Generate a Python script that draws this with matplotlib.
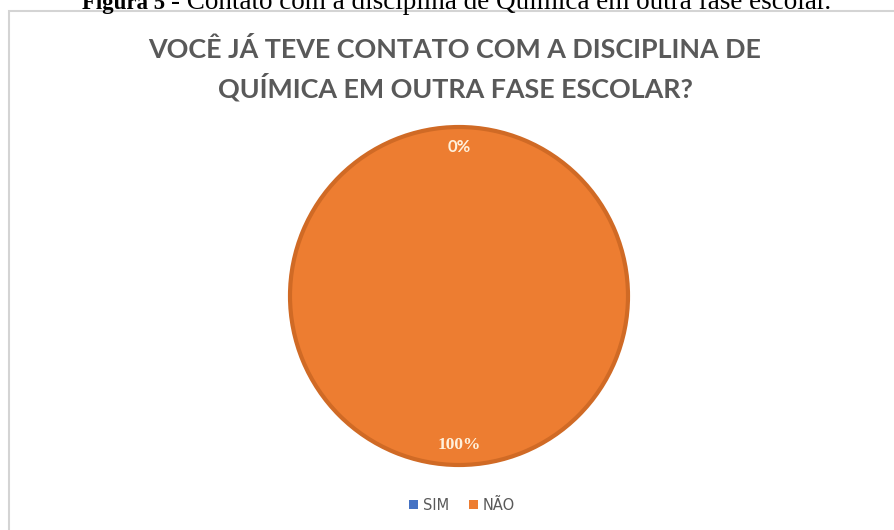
import matplotlib.pyplot as plt
from matplotlib.patches import Rectangle

labels = ["SIM", "NÃO"]
values = [0, 100]
colors = ["#4472C4", "#ED7D31"]

title_lines = ["VOCÊ JÁ TEVE CONTATO COM A DISCIPLINA DE", "QUÍMICA EM OUTRA FASE ESCOLAR?"]
caption_bold = "Figura 5"
caption_rest = "- Contato com a disciplina de Química em outra fase escolar."

W, H = 894, 530
fig = plt.figure(figsize=(W / 100, H / 100), dpi=100)

# chart frame (continues past right and bottom edges)
fig.patches.append(Rectangle((8.5 / W, -0.1), 1.2, (H - 11) / H + 0.1,
                             transform=fig.transFigure, fill=False,
                             edgecolor="#D4D4D4", linewidth=1.5))

# figure caption, top half cut off by the page crop
fig.text(82 / W, 1 - 9 / H, caption_bold, family="Liberation Serif", weight="bold",
         fontsize=16.5, color="black", ha="left", va="baseline")
fig.text(171 / W, 1 - 9 / H, caption_rest,
         family="Liberation Serif", fontsize=19.5, color="black", ha="left", va="baseline")

# title, two lines, sized so the first line spans ~614 px
title_font = dict(family=["Lato", "DejaVu Sans"], weight="bold", color="#595959",
                  ha="center", va="center")
t1 = fig.text(455 / W, 1 - 49 / H, title_lines[0], fontsize=20, **title_font)
t2 = fig.text(455 / W, 1 - 87 / H, title_lines[1], fontsize=20, **title_font)
renderer = fig.canvas.get_renderer()
size = 20 * 614 / t1.get_window_extent(renderer).width
t1.set_fontsize(size)
t2.set_fontsize(size)

cx, cy, r = 459, 296, 169
ax = fig.add_axes([(cx - r) / W, (H - cy - r) / H, 2 * r / W, 2 * r / H])
wedges, texts, autotexts = ax.pie(values, colors=colors, startangle=90, counterclock=False,
                                  autopct="%1.0f%%", pctdistance=0.88,
                                  wedgeprops=dict(edgecolor="#D06A25", linewidth=3))
wedges[0].set_linewidth(0)
for t in autotexts:
    t.set_color("#FFF1DC")
    t.set_fontweight("bold")
autotexts[0].set_family("Lato")
autotexts[0].set_fontsize(12)
autotexts[1].set_family("Liberation Serif")
autotexts[1].set_fontsize(12.5)
ax.set_xlim(-1, 1)
ax.set_ylim(-1, 1)
ax.axis("off")

leg = fig.legend(wedges, labels, loc="center", bbox_to_anchor=(462 / W, 1 - 505 / H),
                 ncol=2, frameon=False, handlelength=0.6, handleheight=0.6,
                 handletextpad=0.3, columnspacing=1.4,
                 prop={"family": "DejaVu Sans", "size": 10.5})
for t in leg.get_texts():
    t.set_color("#595959")
for h in leg.legend_handles:
    h.set_linewidth(0)

fig.savefig("out.png", dpi=100)
